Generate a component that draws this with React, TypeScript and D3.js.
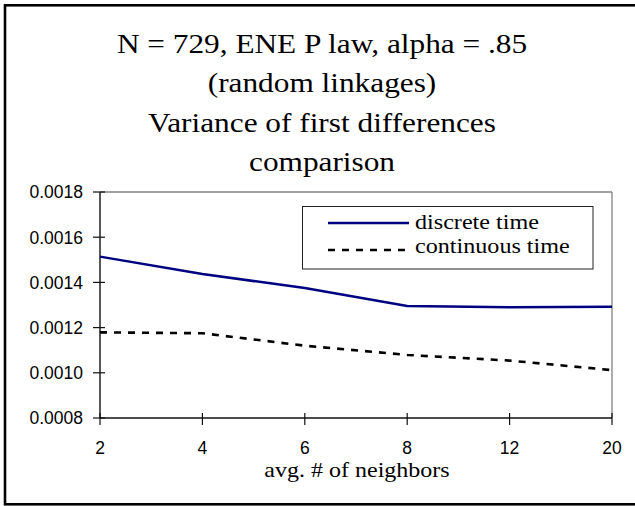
import React from "react";
import * as d3 from "d3";

const categories = ["2", "4", "6", "8", "12", "20"];
const discreteTime = [0.001514, 0.001437, 0.001375, 0.001296, 0.00129, 0.001292];
const continuousTime = [0.001179, 0.001175, 0.00112, 0.001079, 0.001054, 0.001012];
const yTicks = [0.0008, 0.001, 0.0012, 0.0014, 0.0016, 0.0018];
const titleLines = [
  "N = 729, ENE P law, alpha = .85",
  "(random linkages)",
  "Variance of first differences",
  "comparison",
];
const seriesNames = ["discrete time", "continuous time"];
const xTitle = "avg. # of neighbors";

const W = 635;
const H = 506;
const plot = { left: 100, right: 612, top: 192, bottom: 418 };
const SERIF = "'Liberation Serif', 'Times New Roman', serif";
const SANS = "'Liberation Sans', Arial, sans-serif";
const SX = 1.16;

export default function App() {
  const x = d3.scalePoint<string>().domain(categories).range([plot.left, plot.right]);
  const y = d3.scaleLinear().domain([0.0008, 0.0018]).range([plot.bottom, plot.top]);
  const line = d3
    .line<number>()
    .x((_, i) => x(categories[i]) as number)
    .y((d) => y(d));

  const titleBaselines = [53, 92, 132, 171];
  const cx = 322;

  return (
    <svg
      width={W}
      height={H}
      style={{ position: "absolute", left: 0, top: 0, background: "#fff" }}
    >
      <rect x={0} y={0} width={W} height={H} fill="#fff" />
      {/* outer frame */}
      <rect x={5} y={5.3} width={W + 10} height={499} fill="none" stroke="#000" strokeWidth={2.6} />

      {/* title */}
      {titleLines.map((t, i) => (
        <text
          key={i}
          transform={`translate(${cx},${titleBaselines[i]}) scale(${SX},1)`}
          textAnchor="middle"
          fontFamily={SERIF}
          fontSize={27}
          fill="#000"
        >
          {t}
        </text>
      ))}

      {/* plot border (gray top/right) */}
      <line x1={plot.left} x2={plot.right} y1={plot.top} y2={plot.top} stroke="#808080" strokeWidth={1.3} />
      <line x1={plot.right} x2={plot.right} y1={plot.top} y2={plot.bottom} stroke="#808080" strokeWidth={1.3} />

      {/* axes */}
      <line x1={plot.left} x2={plot.left} y1={plot.top} y2={plot.bottom} stroke="#111" strokeWidth={1.4} />
      <line x1={plot.left} x2={plot.right} y1={plot.bottom} y2={plot.bottom} stroke="#111" strokeWidth={1.4} />

      {/* y ticks */}
      {yTicks.map((v) => (
        <g key={v}>
          <line x1={plot.left - 7} x2={plot.left + 5} y1={y(v)} y2={y(v)} stroke="#111" strokeWidth={1.2} />
          <text
            x={83}
            y={y(v)}
            dy="0.36em"
            textAnchor="end"
            fontFamily={SANS}
            fontSize={17.5}
            fill="#000"
          >
            {d3.format(".4f")(v)}
          </text>
        </g>
      ))}

      {/* x ticks */}
      {categories.map((c) => (
        <g key={c}>
          <line
            x1={x(c)}
            x2={x(c)}
            y1={plot.bottom - 5}
            y2={plot.bottom + 7}
            stroke="#111"
            strokeWidth={1.2}
          />
          <text
            x={x(c)}
            y={453.5}
            textAnchor="middle"
            fontFamily={SANS}
            fontSize={17.5}
            fill="#000"
          >
            {c}
          </text>
        </g>
      ))}

      {/* x title */}
      <text
        transform={`translate(357,477) scale(${SX},1)`}
        textAnchor="middle"
        fontFamily={SERIF}
        fontSize={20.7}
        fill="#000"
      >
        {xTitle}
      </text>

      {/* series */}
      <path d={line(discreteTime) || ""} fill="none" stroke="#000080" strokeWidth={2.5} />
      <path
        d={line(continuousTime) || ""}
        fill="none"
        stroke="#000"
        strokeWidth={2.6}
        strokeDasharray="7,7"
      />

      {/* legend */}
      <rect x={302.5} y={206.5} width={290.5} height={62.5} fill="#fff" stroke="#222" strokeWidth={1} />
      <line x1={328} x2={409} y1={223} y2={223} stroke="#000080" strokeWidth={2.5} />
      <line x1={328} x2={410} y1={250} y2={250} stroke="#000" strokeWidth={2.6} strokeDasharray="7,7" />
      {seriesNames.map((s, i) => (
        <text
          key={s}
          transform={`translate(415,${[229, 253][i]}) scale(${SX},1)`}
          fontFamily={SERIF}
          fontSize={20.8}
          fill="#000"
        >
          {s}
        </text>
      ))}
    </svg>
  );
}
